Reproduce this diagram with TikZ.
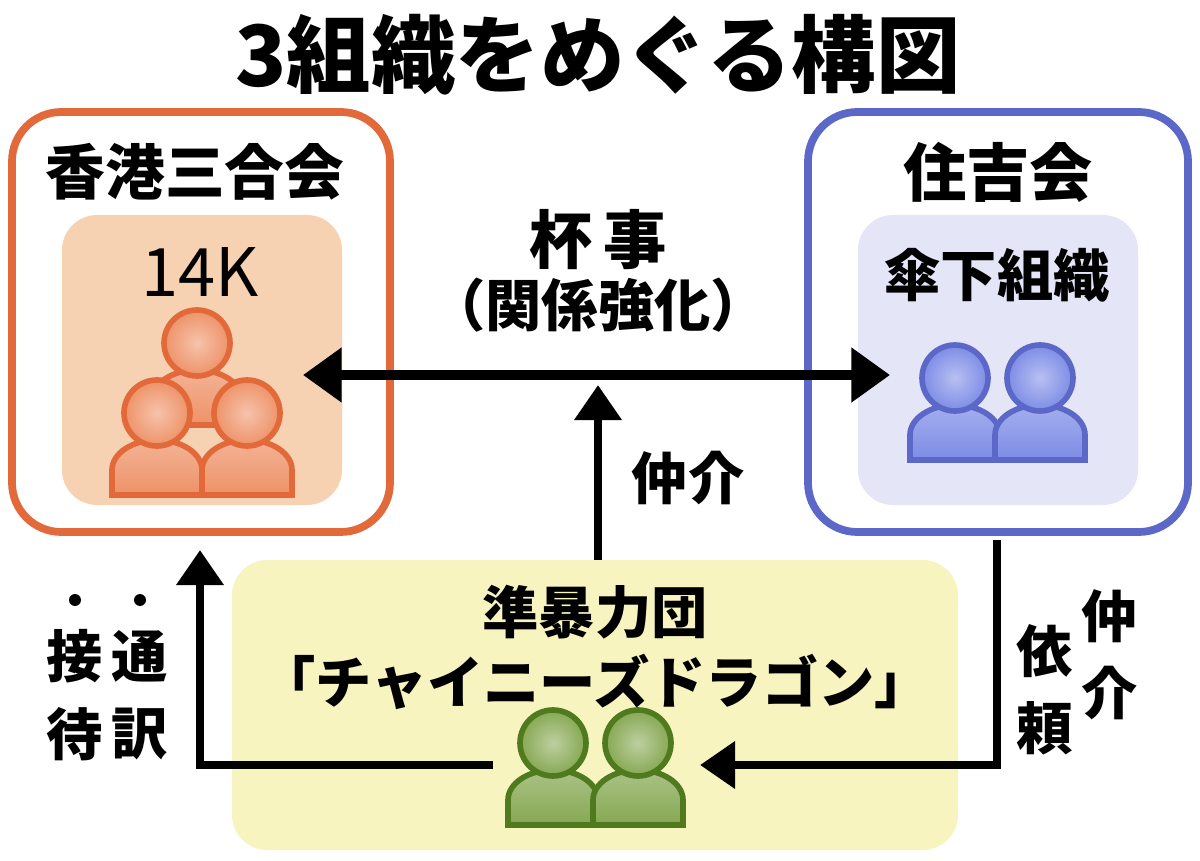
\documentclass[tikz,border=0pt]{standalone}
\usepackage{fontspec}
\setmainfont{Noto Sans CJK JP}
\usetikzlibrary{arrows.meta, positioning, calc}

\definecolor{orgline}{HTML}{E2693A}
\definecolor{orgfill}{HTML}{F7D2B2}
\definecolor{bluline}{HTML}{5B68C8}
\definecolor{blufill}{HTML}{E4E5F6}
\definecolor{yelfill}{HTML}{F7F4C0}
\definecolor{pplorg}{HTML}{EE9268}
\definecolor{pplblu}{HTML}{7D8CE6}
\definecolor{pplgrn}{HTML}{86A852}
\definecolor{grnline}{HTML}{4F7A1E}

\tikzset{
  outer/.style={rounded corners=14pt, line width=2.2pt},
  inner/.style={rounded corners=10pt, draw=none},
  lbl/.style={font=\bfseries\fontsize{16}{18}\selectfont, inner sep=0pt},
  flow/.style={line width=2.4pt, -{Triangle[length=10pt,width=13pt]}},
}

% person: #1 x, #2 y (head centre), #3 line colour, #4 fill colour
\newcommand{\person}[4]{%
  \draw[#3, line width=1.6pt, top color=#4!70!white, bottom color=#4]
    (#1-45,#2+82) -- (#1-45,#2+57) arc[start angle=180, end angle=360, x radius=45, y radius=30] -- (#1+45,#2+82) -- cycle;
  \draw[#3, line width=1.6pt, inner color=#4!55!white, outer color=#4] (#1,#2) circle[radius=33];
}

\begin{document}
\begin{tikzpicture}[x=0.01cm, y=-0.01cm]
  \useasboundingbox (0,0) rectangle (1200,861);

  \node[font=\bfseries\fontsize{24}{26}\selectfont] (title) at (598,55) {3組織をめぐる構図};

  % left group
  \draw[outer, orgline, fill=white] (12,112) rectangle (390,532);
  \fill[inner, orgfill] (62,215) rectangle (342,505);
  \node[lbl, font=\bfseries\fontsize{17}{19}\selectfont] (hk) at (195,172) {香港三合会};
  \node[font=\fontsize{19}{21}\selectfont] (k14) at (200,272) {14K};
  \person{197}{343}{orgline}{pplorg}
  \person{157}{413}{orgline}{pplorg}
  \person{247}{413}{orgline}{pplorg}
  \coordinate (lpeople) at (303,375);

  % right group
  \draw[outer, bluline, fill=white] (808,112) rectangle (1188,532);
  \fill[inner, blufill] (858,215) rectangle (1138,505);
  \node[lbl, font=\bfseries\fontsize{18}{20}\selectfont] (sumi) at (998,172) {住吉会};
  \node[lbl] (sanka) at (997,275) {傘下組織};
  \person{955}{378}{bluline}{pplblu}
  \person{1040}{378}{bluline}{pplblu}
  \coordinate (rpeople) at (890,375);

  % bottom group
  \fill[inner, yelfill] (232,560) rectangle (958,850);
  \node[lbl] (jun) at (595,612) {準暴力団};
  \node[lbl] (cd) at (595,682) {「チャイニーズドラゴン」};
  \person{553}{743}{grnline}{pplgrn}
  \person{638}{743}{grnline}{pplgrn}
  \coordinate (gleft) at (493,765);
  \coordinate (gright) at (700,765);
  \coordinate (gtop) at (598,560);

  % connectors
  \draw[line width=2.6pt, {Triangle[length=11pt,width=15pt]}-{Triangle[length=11pt,width=15pt]}] (lpeople) -- (rpeople);
  \node[lbl, font=\bfseries\fontsize{18}{20}\selectfont] (sakazuki) at (598,240) {杯\,事};
  \node[lbl] (kankei) at (598,305) {（関係強化）};

  \coordinate (mid) at (598,385);
  \draw[flow] (gtop) -- (mid);
  \node[lbl] (chukai) at (688,478) {仲介};

  \coordinate (lup) at (200,550);
  \draw[flow] (gleft) -| (lup);
  \node[lbl, align=center] (tsuyaku) at (140,695) {通\\[4pt]訳};
  \node[lbl, align=center] (settai) at (75,695) {接\\[4pt]待};
  \fill (75,600) circle[radius=6] (140,600) circle[radius=6];

  \coordinate (rdown) at (997,540);
  \draw[flow] (rdown) |- (gright);
  \node[lbl, align=center] (chukai2) at (1110,655) {仲\\[4pt]介};
  \node[lbl, align=center] (irai) at (1045,690) {依\\[4pt]頼};
\end{tikzpicture}
\end{document}
